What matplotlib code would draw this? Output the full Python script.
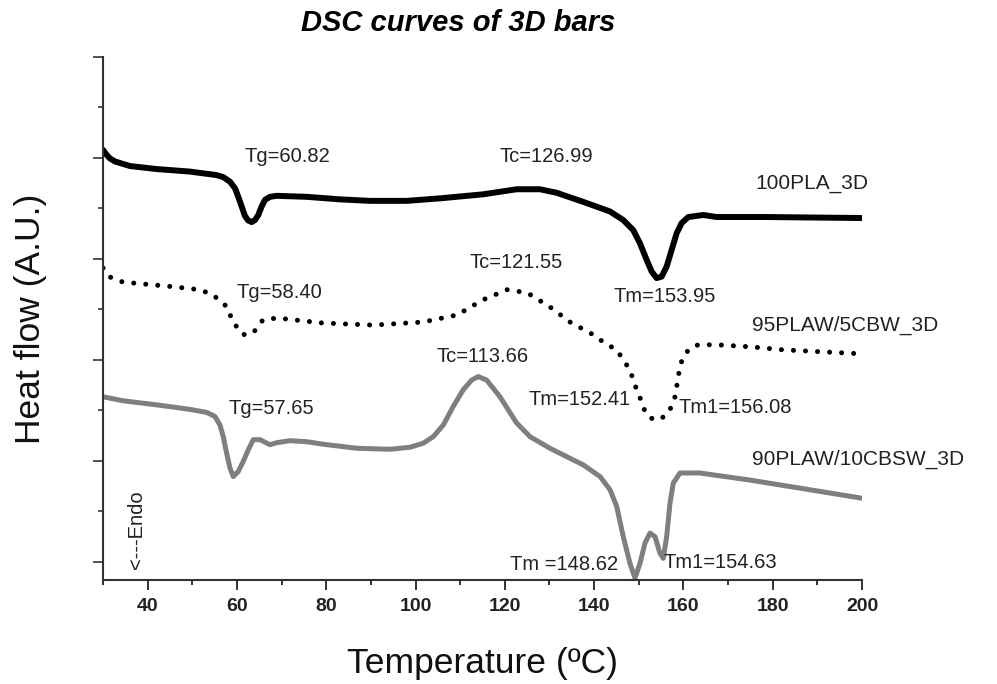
import numpy as np
import matplotlib.pyplot as plt
from matplotlib.ticker import MultipleLocator

plt.rcParams['font.family'] = ['Liberation Sans', 'DejaVu Sans']

# ===== 數據 =====
pla_T = [30.0, 30.83, 31.57, 32.69, 33.81, 36.05, 42.03, 49.48, 55.46, 56.94, 58.44, 59.56,
         60.30, 61.06, 61.80, 62.54, 63.30, 64.04, 64.78, 65.54, 66.28, 67.40, 68.90, 75.62,
         83.08, 89.80, 98.02, 105.48, 115.2, 122.65, 127.87, 131.61, 137.57, 143.55, 146.53,
         148.77, 150.27, 151.77, 152.89, 154.01, 155.13, 156.25, 157.37, 158.49, 159.61,
         161.09, 164.45, 167.45, 178.65, 200.0]
pla_H = [8.16, 8.06, 7.99, 7.93, 7.90, 7.84, 7.78, 7.73, 7.66, 7.62, 7.53, 7.40,
         7.23, 7.04, 6.85, 6.76, 6.73, 6.77, 6.87, 7.04, 7.17, 7.23, 7.25, 7.23,
         7.18, 7.15, 7.15, 7.20, 7.28, 7.38, 7.38, 7.31, 7.13, 6.94, 6.77,
         6.57, 6.31, 5.98, 5.75, 5.62, 5.65, 5.85, 6.18, 6.51, 6.71,
         6.83, 6.87, 6.83, 6.83, 6.81]

cbw_T = [30.0, 31.6, 34.5, 45.7, 51.7, 54.6, 57.8, 59.1, 61.4, 63.6, 65.8, 69.0, 79.3, 90.5,
         101.7, 109.3, 115.1, 120.5, 125.0, 130.1, 134.6, 139.78, 142.43, 145.05, 146.53,
         148.03, 148.77, 149.53, 150.65, 151.39, 152.51, 154.37, 156.25, 157.37, 158.11,
         158.49, 158.85, 159.23, 159.97, 161.47, 163.33, 167.5, 174.9, 182.3, 200.0]
cbw_H = [5.82, 5.64, 5.54, 5.45, 5.39, 5.29, 5.05, 4.75, 4.50, 4.53, 4.79, 4.83, 4.73, 4.69,
         4.75, 4.89, 5.19, 5.39, 5.33, 5.05, 4.75, 4.50, 4.33, 4.20, 4.00,
         3.80, 3.60, 3.41, 3.17, 2.98, 2.85, 2.81, 2.91, 3.08, 3.27,
         3.47, 3.67, 3.87, 4.07, 4.23, 4.30, 4.30, 4.26, 4.20, 4.12]

cbsw_T = [30.0, 34.53, 42.03, 49.48, 53.22, 55.08, 56.20, 56.94, 57.70, 58.44, 59.18, 60.30,
          61.42, 62.54, 63.66, 65.16, 67.40, 68.90, 71.88, 75.62, 79.34, 86.82, 94.28, 98.76,
          101.74, 103.98, 106.22, 108.46, 110.69, 112.57, 114.05, 115.93, 118.91, 122.65,
          125.63, 130.11, 137.57, 141.31, 143.55, 145.05, 146.53, 148.03, 149.15, 150.27,
          151.39, 152.51, 153.63, 154.75, 155.49, 156.25, 156.99, 157.73, 159.23, 163.70,
          174.90, 186.10, 200.0]
cbsw_H = [3.27, 3.19, 3.11, 3.02, 2.96, 2.88, 2.71, 2.48, 2.15, 1.86, 1.69, 1.79,
          1.99, 2.22, 2.42, 2.42, 2.32, 2.36, 2.40, 2.38, 2.33, 2.25, 2.23, 2.27,
          2.35, 2.48, 2.71, 3.08, 3.41, 3.60, 3.67, 3.60, 3.27, 2.75,
          2.48, 2.25, 1.92, 1.69, 1.43, 1.10, 0.50, -0.03, -0.32, -0.03,
          0.37, 0.57, 0.50, 0.17, 0.07, 0.50, 1.16, 1.56, 1.76, 1.76,
          1.62, 1.46, 1.26]

sample_names = ["100PLA_3D", "95PLAW/5CBW_3D", "90PLAW/10CBSW_3D"]

# 標註文字 (文字, T, H)
notes = [("Tg=60.82", 61.8, 8.02), ("Tc=126.99", 118.9, 8.02),
         ("Tc=121.55", 112.2, 5.92), ("Tg=58.40", 60.0, 5.33), ("Tm=153.95", 144.4, 5.25),
         ("Tc=113.66", 104.8, 4.06), ("Tg=57.65", 58.2, 3.03),
         ("Tm=152.41", 125.2, 3.21), ("Tm1=156.08", 158.8, 3.05),
         ("Tm =148.62", 121.2, -0.06), ("Tm1=154.63", 155.6, -0.02)]
name_pos = [(176.2, 7.50), (175.4, 4.69), (175.4, 2.02)]

# ===== 繪圖 =====
fig = plt.figure(figsize=(9.97, 6.84), dpi=100)
ax = fig.add_axes([0.1033, 0.152, 0.7613, 0.7647])

ax.plot(pla_T, pla_H, color='black', lw=4.3, solid_capstyle='round', solid_joinstyle='round')
ax.plot(cbw_T, cbw_H, color='black', lw=3.6, linestyle=(0, (0.01, 2.4)),
        dash_capstyle='round')
ax.plot(cbsw_T, cbsw_H, color='#7f7f7f', lw=3.6, solid_capstyle='round',
        solid_joinstyle='round')

for txt, t, h in notes:
    ax.text(t, h, txt, fontsize=14.5, color='#222222', ha='left', va='center')
for nm, (t, h) in zip(sample_names, name_pos):
    ax.text(t, h, nm, fontsize=15, color='#222222', ha='left', va='center')

ax.text(37.6, 0.63, "<---Endo", rotation=90, fontsize=14.5, ha='center', va='center',
        color='#222222')

ax.set_xlim(30, 200)
ax.set_ylim(-0.36, 10)
ax.xaxis.set_major_locator(MultipleLocator(20))
ax.xaxis.set_minor_locator(MultipleLocator(10))
ax.yaxis.set_major_locator(MultipleLocator(2))
ax.yaxis.set_minor_locator(MultipleLocator(1))
ax.set_xticks([40, 60, 80, 100, 120, 140, 160, 180, 200])
ax.set_yticklabels([])
ax.tick_params(axis='x', which='major', length=7, width=1.3, labelsize=14, pad=6,
               colors='#222222')
ax.tick_params(axis='x', which='minor', length=3.5, width=1.3, colors='#222222')
ax.tick_params(axis='y', which='major', length=7, width=1.3, colors='#444444')
ax.tick_params(axis='y', which='minor', length=3.5, width=1.3, colors='#444444')
for lab in ax.get_xticklabels():
    lab.set_fontweight('bold')

for s in ['top', 'right']:
    ax.spines[s].set_visible(False)
for s in ['left', 'bottom']:
    ax.spines[s].set_linewidth(1.5)
    ax.spines[s].set_color('#333333')
ax.spines['left'].set_bounds(-0.36, 10)

ax.set_xlabel("Temperature (\u00baC)", fontsize=25.5, labelpad=23, color='#111111')
ax.set_ylabel("Heat flow (A.U.)", fontsize=25.5, labelpad=30, color='#111111')
fig.text(0.46, 0.966, "DSC curves of 3D bars", fontsize=21, fontweight='bold',
         fontstyle='italic', ha='center', va='center')

fig.savefig("out.png", dpi=100)
